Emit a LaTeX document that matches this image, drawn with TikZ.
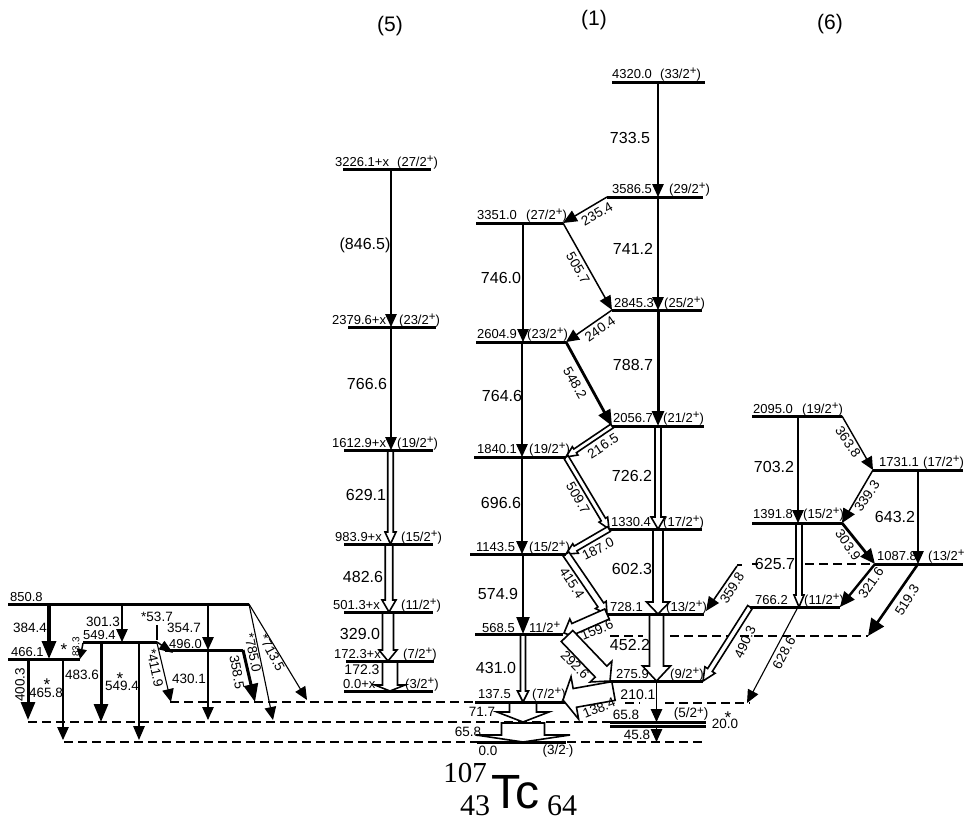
\documentclass[tikz,border=0pt]{standalone}
\usepackage{fontspec}
\setmainfont{Liberation Sans}
\newfontfamily\serifnum{Liberation Serif}
\usetikzlibrary{arrows.meta,calc}
\newcounter{lbcount}
\tikzset{
 lvl/.style={line width=#1,line cap=butt},
 lvl/.default=3pt,
 dash line/.style={line width=1.2pt,dash pattern=on 9pt off 5pt},
 thin gam/.style={line width=1.1pt,-{Triangle[length=13pt,width=11.5pt]}},
 hollow/.style={line width=1.6pt,draw=black,fill=white,line join=miter},
 en/.style={anchor=base west,inner sep=0pt,font=\fontsize{13}{13}\selectfont},
 big/.style={anchor=center,inner sep=0pt,font=\fontsize{16}{16}\selectfont},
 mdl/.style={anchor=center,inner sep=0pt,font=\fontsize{13.5}{13.5}\selectfont},
 star/.style={anchor=center,inner sep=0pt,font=\fontsize{17}{17}\selectfont},
 head/.style={anchor=center,inner sep=0pt,font=\fontsize{21}{21}\selectfont},
}
\newcommand\spinlab[1]{(#1\raisebox{3.5pt}{\fontsize{11.5}{11.5}\selectfont +})}
\newcommand\lb[4][en]{\stepcounter{lbcount}\node[#1] (t\thelbcount) at (#2,#3) {#4};}
\newcommand\lev[5]{\coordinate (#1l) at (#2,#4); \coordinate (#1r) at (#3,#4); \draw[lvl=#5] (#1l) -- (#1r);}
\newcommand\gam[4]{\coordinate (#1a) at (#2); \coordinate (#1b) at (#3); \draw[#4] (#1a) -- (#1b);}
\newcommand\hol[6]{\coordinate (#1a) at (#2); \coordinate (#1b) at (#3);
 \coordinate (#1c) at ($(#1b)!#6pt!(#1a)$);
 \draw[hollow] ($(#1a)!#4*0.5pt!90:(#1b)$) -- ($(#1c)!#4*0.5pt!90:(#1b)$) -- ($(#1c)!#5*0.5pt!90:(#1b)$) -- (#1b)
   -- ($(#1c)!#5*0.5pt!-90:(#1b)$) -- ($(#1c)!#4*0.5pt!-90:(#1b)$) -- ($(#1a)!#4*0.5pt!-90:(#1b)$) -- cycle;}
\newcommand\dsh[4]{\coordinate (#1a) at (#2,#4); \coordinate (#1b) at (#3,#4); \draw[dash line] (#1a) -- (#1b);}
\begin{document}
\begin{tikzpicture}[x=1pt,y=-1pt]
\useasboundingbox (0,0) rectangle (966,823);
\fill[white] (0,0) rectangle (966,823);
% dashed lines
\dsh{da}{170}{475}{702}
\dsh{db}{28}{610}{722}
\dsh{dc}{64}{477}{742}
\dsh{dd}{567}{706}{742}
\dsh{de}{805}{875}{564}
\dsh{df}{670}{868}{636}
\dsh{dg}{610}{643}{636}
\dsh{dh}{665}{750}{703}
\dsh{di}{625}{640}{703}
\dsh{dj}{737}{742}{565}
\dsh{dk}{752}{758}{564}
% left group
\gam{g384}{49,604}{49,659}{line width=3.4pt,-{Triangle[length=18pt,width=14pt]}}
\gam{g400}{28,659}{28,720}{line width=3pt,-{Triangle[length=18pt,width=14pt]}}
\gam{g483}{63,659}{63,740}{thin gam}
\gam{g83}{83,643}{80,659}{line width=1.5pt,-{Triangle[length=10pt,width=10pt]}}
\gam{g301}{122,604}{122,642}{thin gam}
\gam{g549}{101,642}{101,722}{line width=3pt,-{Triangle[length=18pt,width=14pt]}}
\gam{g483b}{139,642}{139,740}{line width=1.5pt,-{Triangle[length=14pt,width=11.5pt]}}
\gam{g53s}{157,625}{157,640}{line width=1.1pt}
\gam{g53}{157,642}{173,653}{line width=1.5pt,-{Triangle[length=14pt,width=10pt]}}
\gam{g354}{208,604}{208,650}{thin gam}
\gam{g430}{208,650}{208,720}{thin gam}
\gam{g411}{157,643}{171,702}{thin gam}
\gam{g358}{243,650}{255,702}{line width=3pt,-{Triangle[length=18pt,width=14pt]}}
\gam{g785}{249,604}{273,720}{thin gam}
\gam{g713}{249,604}{307,700}{thin gam}
% band 5
\gam{g846}{391,169}{391,327}{thin gam}
\gam{g766}{391,327}{391,450}{thin gam}
\hol{g629}{390.5,450}{390.5,544}{5.5}{11}{12}
\hol{g482}{389,544}{389,612}{7.5}{14}{12}
\hol{g329}{388,612}{388,661}{11}{18}{11}
\hol{g172}{390,661}{390,691}{15}{30}{6}
% band 1 right column
\gam{g733}{658,82}{658,197}{thin gam}
\gam{g741}{658,197}{658,310}{thin gam}
\gam{g788}{658,310}{658,426}{line width=3pt,-{Triangle[length=15pt,width=12pt]}}
\hol{g726}{658,426}{658,529}{6}{14}{12}
\hol{g602}{658,529}{658,614}{10}{23}{12}
\hol{g452}{656.5,614}{656.5,681}{14}{28}{15}
\gam{g210}{656.5,681}{656.5,722}{thin gam}
\gam{g45}{656.5,726}{656.5,742}{thin gam}
% band 1 left column
\gam{g746}{523,223}{523,342}{thin gam}
\gam{g764}{522,342}{522,457}{thin gam}
\gam{g696}{522,457}{522,554}{thin gam}
\gam{g574}{523,554}{523,634}{line width=2.2pt,-{Triangle[length=17pt,width=13pt]}}
\hol{g431}{523,634}{523,702}{5}{11}{11}
\hol{g71}{523,702}{523,722}{27}{52}{10}
\hol{g65}{523,723}{523,742}{43}{94}{7}
% diagonals
\gam{g235}{607,197}{563,223}{line width=1.5pt,-{Triangle[length=14pt,width=12pt]}}
\gam{g505}{563,223}{612,310}{line width=1.5pt,-{Triangle[length=14pt,width=12pt]}}
\gam{g240}{612,310}{566,342}{line width=1.5pt,-{Triangle[length=13pt,width=12pt]}}
\gam{g548}{566,342}{612,426}{line width=2.8pt,-{Triangle[length=16pt,width=13pt]}}
\hol{g216}{612,426}{566,457}{4.5}{10}{11}
\hol{g509}{566,457}{609,529}{5}{10}{11}
\hol{g187}{609,529}{566,554}{5.5}{11}{11}
\hol{g415}{566,554}{607,614}{7}{13}{11}
\hol{g159}{607,614}{564,633}{11}{21}{11}
\hol{g292}{567,636}{610,681}{16}{30}{13}
\hol{g138}{613.5,691}{563,700}{19}{43}{12}
% band 6
\gam{g703}{798,416}{798,523}{thin gam}
\gam{g363}{842,416}{873,470}{line width=1.4pt,-{Triangle[length=13pt,width=12pt]}}
\gam{g643}{918,470}{918,564}{thin gam}
\gam{g339}{873,470}{842,523}{line width=1.5pt,-{Triangle[length=14pt,width=13pt]}}
\gam{g303}{842,523}{875,564}{line width=2.8pt,-{Triangle[length=15pt,width=13pt]}}
\hol{g625}{799,523}{799,607}{6}{10}{12}
\gam{g321}{875,564}{840,607}{line width=2.4pt,-{Triangle[length=15pt,width=13pt]}}
\gam{g519}{918,564}{868,636}{line width=2.6pt,-{Triangle[length=17pt,width=15pt]}}
\gam{g628}{798,607}{747,703}{thin gam}
\hol{g490}{750,607}{703,681}{5.5}{12}{13}
\gam{g359}{737,566}{706,611}{line width=1.6pt,-{Triangle[length=14pt,width=12pt]}}
% levels
\lev{la}{8}{249}{604}{3pt}
\lev{lb}{8}{80}{659}{3pt}
\lev{lc}{83}{157}{642}{3pt}
\lev{ld}{165}{243}{650}{3pt}
\lev{e1}{343}{431}{169}{3pt}
\lev{e2}{348}{436}{327}{3pt}
\lev{e3}{344}{433}{450}{3pt}
\lev{e4}{344}{433}{544}{3pt}
\lev{e5}{344}{433}{612}{3pt}
\lev{e6}{346}{434}{661}{3pt}
\lev{e7}{344}{433}{691}{3pt}
\lev{f1}{612}{705}{82}{3pt}
\lev{f2}{607}{703}{197}{3pt}
\lev{f3}{476}{563}{223}{3pt}
\lev{f4}{612}{702}{310}{3pt}
\lev{f5}{476}{566}{342}{3pt}
\lev{f6}{612}{704}{426}{3pt}
\lev{f7}{474}{566}{457}{3pt}
\lev{f8}{609}{702}{529}{3pt}
\lev{f9}{470}{566}{554}{3pt}
\lev{f10}{607}{704}{614}{3pt}
\lev{f11}{475}{563}{634}{3pt}
\lev{f12}{610}{703}{681}{3pt}
\lev{f13}{475}{565}{702}{3pt}
\lev{f14}{610}{706}{722}{3pt}
\lev{f15}{610}{706}{726.5}{3.8pt}
\lev{f16}{477}{566}{742}{3pt}
\lev{h1}{752}{842}{416}{3pt}
\lev{h2}{873}{963}{470}{3pt}
\lev{h3}{752}{842}{523}{3pt}
\lev{h4}{875}{963}{564}{3pt}
\lev{h5}{750}{840}{607}{3pt}
% headers
\lb[head]{390}{26}{(5)}
\lb[head]{594}{20}{(1)}
\lb[head]{830}{24}{(6)}
% energy labels
\lb{335}{166}{3226.1+x}\lb{397}{166}{\spinlab{27/2}}
\lb{332}{324}{2379.6+x}\lb{399}{324}{\spinlab{23/2}}
\lb{332}{447}{1612.9+x}\lb{397}{447}{\spinlab{19/2}}
\lb{335}{541}{983.9+x}\lb{401}{541}{\spinlab{15/2}}
\lb{333}{609}{501.3+x}\lb{401}{609}{\spinlab{11/2}}
\lb{334}{658}{172.3+x}\lb{403}{658}{\spinlab{7/2}}
\lb{343}{688}{0.0+x}\lb{405}{688}{\spinlab{3/2}}
\lb{612}{78}{4320.0}\lb{660}{78}{\spinlab{33/2}}
\lb{612}{193}{3586.5}\lb{669}{193}{\spinlab{29/2}}
\lb{477}{219}{3351.0}\lb{526}{219}{\spinlab{27/2}}
\lb{614}{307}{2845.3}\lb{664}{307}{\spinlab{25/2}}
\lb{477}{338}{2604.9}\lb{527}{338}{\spinlab{23/2}}
\lb{613}{422}{2056.7}\lb{663}{422}{\spinlab{21/2}}
\lb{477}{453}{1840.1}\lb{529}{453}{\spinlab{19/2}}
\lb{611}{526}{1330.4}\lb{663}{526}{\spinlab{17/2}}
\lb{476}{551}{1143.5}\lb{529}{551}{\spinlab{15/2}}
\lb{610}{611}{728.1}\lb{666}{611}{\spinlab{13/2}}
\lb{482}{632}{568.5}\lb{529}{632}{11/2\raisebox{3.5pt}{\fontsize{11.5}{11.5}\selectfont +}}
\lb{616}{678}{275.9}\lb{670}{678}{\spinlab{9/2}}
\lb{478}{698}{137.5}\lb{532}{698}{\spinlab{7/2}}
\lb{753}{413}{2095.0}\lb{802}{413}{\spinlab{19/2}}
\lb{879}{466}{1731.1}\lb{923}{466}{\spinlab{17/2}}
\lb{753}{518}{1391.8}\lb{803}{518}{\spinlab{15/2}}
\lb{877}{560}{1087.8}\lb{928}{560}{(13/2\raisebox{3.5pt}{\fontsize{11.5}{11.5}\selectfont +}}
\lb{755}{604}{766.2}\lb{804}{604}{\spinlab{11/2}}
\lb{10}{601}{850.8}\lb{11}{656}{466.1}\lb{83}{639}{549.4}\lb{169}{648}{496.0}
% large gamma labels
\lb[big]{365}{245}{(846.5)}\lb[big]{367}{384}{766.6}\lb[big]{366}{495}{629.1}\lb[big]{363}{577}{482.6}\lb[big]{360}{634}{329.0}
\lb[big,font=\fontsize{14}{14}\selectfont]{362}{670}{172.3}
\lb[big]{630}{138}{733.5}\lb[big]{633}{249}{741.2}\lb[big]{633}{365}{788.7}\lb[big]{632}{476}{726.2}\lb[big]{632}{569}{602.3}\lb[big]{630}{645}{452.2}
\lb[big,font=\fontsize{14}{14}\selectfont]{638}{695}{210.1}
\lb[big]{501}{278}{746.0}\lb[big]{502}{396}{764.6}\lb[big]{501}{503}{696.6}\lb[big]{498}{594}{574.9}\lb[big]{496}{668}{431.0}
\lb[big]{775}{564}{625.7}\lb[big]{774}{467}{703.2}\lb[big]{895}{517}{643.2}
% smaller labels
\lb[mdl]{482}{712}{71.7}\lb[mdl]{468}{732}{65.8}\lb[mdl]{488}{751}{0.0}
\lb[mdl]{558}{751}{(3/2\raisebox{3pt}{\fontsize{9}{9}\selectfont -})}
\lb[mdl]{626}{715}{65.8}\lb[mdl]{691}{714}{\spinlab{5/2}}
\lb[mdl]{725}{724}{20.0}\lb[star]{728}{718}{*}\lb[mdl]{637}{735}{45.8}
\lb[mdl]{30}{628}{384.4}\lb[mdl,rotate=90]{20}{685}{400.3}
\lb[mdl]{46}{693}{465.8}\lb[star]{47}{685}{*}
\lb[mdl]{82}{675}{483.6}\lb[mdl]{122}{686}{549.4}\lb[star]{120}{679}{*}
\lb[mdl]{103}{622}{301.3}\lb[mdl]{157}{617}{*53.7}\lb[mdl]{184}{628}{354.7}\lb[mdl]{189}{679}{430.1}
\lb[mdl,rotate=-80]{237}{672}{358.5}\lb[mdl,rotate=-78]{253}{653}{*785.0}\lb[mdl,rotate=-62]{272}{653}{*713.5}\lb[mdl,rotate=-78]{155}{668}{*411.9}
\lb[star]{64}{650}{*}\lb[mdl,rotate=90,font=\fontsize{10}{10}\selectfont]{76}{647}{83.3}
% rotated labels
\lb[mdl,rotate=30]{597}{214}{235.4}\lb[mdl,rotate=-60]{578}{268}{505.7}\lb[mdl,rotate=35]{600}{329}{240.4}\lb[mdl,rotate=-60]{575}{383}{548.2}
\lb[mdl,rotate=33]{603}{446}{216.5}\lb[mdl,rotate=-60]{578}{498}{509.7}\lb[mdl,rotate=27]{598}{549}{187.0}\lb[mdl,rotate=-57]{572}{583}{415.4}
\lb[mdl,rotate=22]{597}{630}{159.6}\lb[mdl,rotate=-45]{575}{665}{292.6}\lb[mdl,rotate=22]{599}{708}{138.4}
\lb[mdl,rotate=58]{732}{588}{359.8}\lb[mdl,rotate=65]{745}{642}{490.3}\lb[mdl,rotate=62]{784}{653}{628.6}
\lb[mdl,rotate=55]{871}{583}{321.6}\lb[mdl,rotate=58]{907}{600}{519.3}\lb[mdl,rotate=-55]{848}{545}{303.9}\lb[mdl,rotate=55]{867}{496}{339.3}\lb[mdl,rotate=-55]{848}{442}{363.8}
% nuclide
\lb[anchor=base,inner sep=0pt,font=\fontsize{29}{29}\selectfont\serifnum]{465}{782}{107}
\lb[anchor=base,inner sep=0pt,font=\fontsize{30}{30}\selectfont\serifnum]{475}{815}{43}
\lb[anchor=base west,inner sep=0pt,font=\fontsize{48}{48}\selectfont]{491}{808}{Tc}
\lb[anchor=base west,inner sep=0pt,font=\fontsize{30}{30}\selectfont\serifnum]{547}{815}{64}
\end{tikzpicture}
\end{document}
